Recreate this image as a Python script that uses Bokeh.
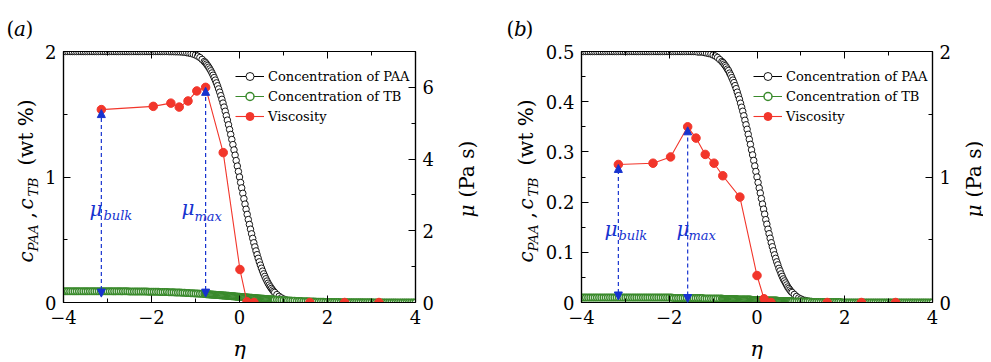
import math
from bokeh.plotting import figure
from bokeh.models import (Range1d, LinearAxis, FixedTicker, Label, Legend, LegendItem,
                          Arrow, NormalHead)
from bokeh.layouts import row, column
from bokeh.embed import file_html
from bokeh.resources import INLINE

# ---------------- data ----------------
ETA = [-4.00, -3.95, -3.90, -3.85, -3.80, -3.75, -3.70, -3.65, -3.60, -3.55, -3.50, -3.45, -3.40,
       -3.35, -3.30, -3.25, -3.20, -3.15, -3.10, -3.05, -3.00, -2.95, -2.90, -2.85, -2.80, -2.75,
       -2.70, -2.65, -2.60, -2.55, -2.50, -2.45, -2.40, -2.35, -2.30, -2.25, -2.20, -2.15, -2.10,
       -2.05, -2.00, -1.95, -1.90, -1.85, -1.80, -1.75, -1.70, -1.65, -1.60, -1.55, -1.50, -1.45,
       -1.40, -1.35, -1.30, -1.25, -1.20, -1.15, -1.10, -1.05, -1.00, -0.95, -0.90, -0.85,
       -0.800, -0.775, -0.750, -0.725, -0.700, -0.675, -0.650, -0.625, -0.600, -0.575, -0.550,
       -0.525, -0.500, -0.475, -0.450, -0.425, -0.400, -0.375, -0.350, -0.325, -0.300, -0.275,
       -0.250, -0.225, -0.200, -0.175, -0.150, -0.125, -0.100, -0.075, -0.050, -0.025, 0.000,
       0.025, 0.050, 0.075, 0.100, 0.125, 0.150, 0.175, 0.200, 0.225, 0.250, 0.275, 0.300, 0.325,
       0.350, 0.375, 0.400, 0.425, 0.450, 0.475, 0.500, 0.525, 0.550, 0.575, 0.600, 0.625, 0.650,
       0.675, 0.700, 0.725, 0.750, 0.775, 0.800,
       0.85, 0.90, 0.95, 1.00, 1.05, 1.10, 1.15, 1.20, 1.25, 1.30, 1.35, 1.40, 1.45, 1.50, 1.55,
       1.60, 1.65, 1.70, 1.75, 1.80, 1.85, 1.90, 1.95, 2.00, 2.05, 2.10, 2.15, 2.20, 2.25, 2.30,
       2.35, 2.40, 2.45, 2.50, 2.55, 2.60, 2.65, 2.70, 2.75, 2.80, 2.85, 2.90, 2.95, 3.00, 3.05,
       3.10, 3.15, 3.20, 3.25, 3.30, 3.35, 3.40, 3.45, 3.50, 3.55, 3.60, 3.65, 3.70, 3.75, 3.80,
       3.85, 3.90, 3.95, 4.00]

PAA_A = ([2.000] * 48 +
         [1.999, 1.999, 1.999, 1.998, 1.998, 1.997, 1.996, 1.994, 1.991, 1.988, 1.984, 1.979,
          1.972, 1.963, 1.952, 1.937] +
         [1.920, 1.911, 1.900, 1.888, 1.875, 1.861, 1.846, 1.829, 1.811, 1.792, 1.772, 1.750,
          1.727, 1.702, 1.676, 1.648, 1.619, 1.589, 1.557, 1.524, 1.489, 1.453, 1.416, 1.378,
          1.339, 1.299, 1.258, 1.216, 1.174, 1.131, 1.087, 1.044, 1.000,
          0.956, 0.913, 0.870, 0.827, 0.784, 0.743, 0.702, 0.661, 0.622, 0.584, 0.547, 0.511,
          0.476, 0.443, 0.411, 0.381, 0.352, 0.324, 0.298, 0.273, 0.250, 0.228, 0.208, 0.189,
          0.171, 0.154, 0.139, 0.125, 0.112, 0.100, 0.089, 0.080] +
         [0.063, 0.049, 0.037, 0.028, 0.021, 0.016, 0.012, 0.009, 0.006, 0.004, 0.003, 0.002,
          0.002, 0.001, 0.001, 0.001] + [0.0] * 48)

TB_A = ([0.090] * 20 + [0.089] * 10 + [0.088] * 5 + [0.087] * 4 + [0.086] * 3 +
        [0.085, 0.085, 0.084, 0.084, 0.083, 0.083, 0.082, 0.081, 0.081, 0.080, 0.079, 0.079,
         0.078, 0.077, 0.076, 0.075, 0.074, 0.073, 0.072, 0.071, 0.070, 0.069] +
        [0.068, 0.067, 0.066, 0.066, 0.065, 0.064, 0.064, 0.063, 0.062, 0.062, 0.061, 0.060,
         0.060, 0.059, 0.058, 0.058, 0.057, 0.056, 0.055, 0.055, 0.054, 0.053, 0.053, 0.052,
         0.051, 0.050, 0.050, 0.049, 0.048, 0.047, 0.046, 0.046, 0.045,
         0.044, 0.044, 0.043, 0.042, 0.041, 0.040, 0.040, 0.039, 0.038, 0.037, 0.037, 0.036,
         0.035, 0.035, 0.034, 0.033, 0.032, 0.032, 0.031, 0.030, 0.030, 0.029, 0.028, 0.028,
         0.027, 0.026, 0.026, 0.025, 0.024, 0.024, 0.023, 0.022] +
        [0.021, 0.020, 0.019, 0.018, 0.017, 0.016, 0.015, 0.014, 0.013, 0.012, 0.011, 0.011,
         0.010, 0.009, 0.009, 0.008, 0.007, 0.007, 0.006, 0.006, 0.005, 0.005, 0.004, 0.004,
         0.004, 0.003, 0.003, 0.003, 0.003, 0.002, 0.002, 0.002, 0.002, 0.002] +
        [0.001] * 10 + [0.0] * 20)

PAA_B = ([0.500] * 48 +
         [0.500, 0.500, 0.500, 0.500, 0.500, 0.499, 0.499, 0.499, 0.498, 0.497, 0.496, 0.495,
          0.493, 0.491, 0.488, 0.484] +
         [0.480, 0.478, 0.475, 0.472, 0.469, 0.465, 0.462, 0.457, 0.453, 0.448, 0.443, 0.438,
          0.432, 0.426, 0.419, 0.412, 0.405, 0.397, 0.389, 0.381, 0.372, 0.363, 0.354, 0.345,
          0.335, 0.325, 0.315, 0.304, 0.294, 0.283, 0.272, 0.261, 0.250,
          0.239, 0.228, 0.218, 0.207, 0.196, 0.186, 0.176, 0.165, 0.156, 0.146, 0.137, 0.128,
          0.119, 0.111, 0.103, 0.095, 0.088, 0.081, 0.075, 0.068, 0.063, 0.057, 0.052, 0.047,
          0.043, 0.039, 0.035, 0.031, 0.028, 0.025, 0.022, 0.020] +
         [0.016, 0.012, 0.009, 0.007, 0.005, 0.004, 0.003, 0.002, 0.002, 0.001, 0.001] +
         [0.0] * 53)

TB_B = ([0.010] * 42 + [0.009] * 14 + [0.008] * 8 +
        [0.008] + [0.007] * 13 + [0.006] * 13 + [0.005] * 11 + [0.004] * 13 + [0.003] * 13 +
        [0.002] +
        [0.002] * 8 + [0.001] * 14 + [0.0] * 42)

VISC_A_ETA = [-3.14, -1.96, -1.56, -1.37, -1.17, -0.97, -0.77, -0.37, 0.01, 0.17, 0.33, 1.60, 2.39, 3.17]
VISC_A_MU = [5.38, 5.47, 5.56, 5.45, 5.62, 5.90, 6.00, 4.18, 0.92, 0.02, 0.00, 0.00, 0.00, 0.00]
VISC_B_ETA = [-3.16, -2.37, -1.97, -1.58, -1.39, -1.18, -0.98, -0.78, -0.39, 0.00, 0.16, 0.32, 1.60, 2.38, 3.16]
VISC_B_MU = [1.10, 1.11, 1.16, 1.40, 1.31, 1.18, 1.11, 1.01, 0.84, 0.215, 0.03, 0.00, 0.00, 0.00, 0.00]

# foot of the mu_bulk / mu_max arrows (Pa s, right axis)
ARROW_FOOT_A = [0.15, 0.15]
ARROW_FOOT_B = [0.02, 0.0]

X_TICKS = [-4, -2, 0, 2, 4]
X_MINOR = [-3, -1, 1, 3]
C_TICKS_A = [0, 1, 2]
C_MINOR_A = [0.5, 1.5]
MU_TICKS_A = [0, 2, 4, 6]
MU_MINOR_A = [1, 3, 5]
C_TICKS_B = [0, 0.1, 0.2, 0.3, 0.4, 0.5]
C_MINOR_B = [0.05, 0.15, 0.25, 0.35, 0.45]
MU_TICKS_B = [0, 1, 2]
MU_MINOR_B = [0.5, 1.5]

for arr in (PAA_A, TB_A, PAA_B, TB_B):
    assert len(arr) == len(ETA), len(arr)

# ---------------- style ----------------
FONT = "DejaVu Serif"
RED = "#f2362b"
GREEN = "#3a8a2c"
BLUE = "#1733cf"
ROW_H = 333          # canvas height of the plot row
BOT_H = 26           # canvas height of the strip holding the eta labels


def fmt(v):
    return ("%g" % v).replace("-", "\u2212")


def style_axis(ax, ticks, minor, labels=True, standoff=7):
    ax.ticker = FixedTicker(ticks=ticks, minor_ticks=minor)
    ax.axis_line_color = "black"
    ax.axis_line_width = 1.2
    ax.major_tick_line_color = "black"
    ax.minor_tick_line_color = "black"
    ax.major_tick_in = 7
    ax.major_tick_out = 0
    ax.minor_tick_in = 4
    ax.minor_tick_out = 0
    ax.major_label_text_font = FONT
    ax.major_label_text_font_size = "18px"
    ax.major_label_text_color = "black"
    ax.major_label_standoff = standoff
    if labels:
        ax.major_label_overrides = {t: fmt(t) for t in ticks}
    else:
        ax.major_label_overrides = {t: "" for t in ticks}
        ax.major_label_text_font_size = "0px"


def add_text(p, x, y, text, size, style="normal", angle=0.0, align="left", color="black",
             units="data"):
    p.add_layout(Label(x=x, y=y, x_units=units, y_units=units, text=text, text_font=FONT,
                       text_font_size=f"{size}px", text_font_style=style, angle=angle,
                       text_align=align, text_baseline="alphabetic", text_color=color))


def strip(w, h):
    s = figure(width=w, height=h, x_range=Range1d(0, w), y_range=Range1d(0, h),
               output_backend="svg", toolbar_location=None, x_axis_location=None,
               y_axis_location=None, min_border_left=0, min_border_right=0,
               min_border_top=0, min_border_bottom=0)
    s.frame_align = False
    s.grid.visible = False
    s.outline_line_color = None
    s.background_fill_color = "white"
    s.border_fill_color = "white"
    return s


def make_panel(width, bl, br, cmax, mumax, paa, tb, veta, vmu, c_ticks, c_minor, mu_ticks,
               mu_minor, feet, mu_texts):
    p = figure(width=width, height=ROW_H, x_range=Range1d(-4, 4), y_range=Range1d(0, cmax),
               output_backend="svg", toolbar_location=None,
               min_border_left=bl, min_border_right=br, min_border_top=51,
               min_border_bottom=ROW_H - 51 - 251)
    p.extra_y_ranges = {"mu": Range1d(0, mumax)}
    p.xgrid.visible = False
    p.ygrid.visible = False
    p.outline_line_color = "black"
    p.outline_line_width = 1.2
    p.background_fill_color = "white"
    p.border_fill_color = "white"

    style_axis(p.xaxis[0], X_TICKS, X_MINOR, standoff=7)
    style_axis(p.yaxis[0], c_ticks, c_minor, standoff=7)
    top = LinearAxis()
    style_axis(top, X_TICKS, X_MINOR, labels=False)
    p.add_layout(top, "above")
    right = LinearAxis(y_range_name="mu")
    style_axis(right, mu_ticks, mu_minor, standoff=7)
    p.add_layout(right, "right")

    l1 = p.line(ETA, paa, line_color="black", line_width=1)
    s1 = p.scatter(ETA, paa, size=6.5, line_color="black", fill_color="white", line_width=0.9)
    l2 = p.line(ETA, tb, line_color=GREEN, line_width=1)
    s2 = p.scatter(ETA, tb, size=6.5, line_color=GREEN, fill_color="white", line_width=1.5)
    l3 = p.line(veta, vmu, line_color=RED, line_width=1.1, y_range_name="mu")
    s3 = p.scatter(veta, vmu, size=8.5, line_color=RED, fill_color=RED, y_range_name="mu")

    leg = Legend(items=[LegendItem(label="Concentration of PAA", renderers=[l1, s1]),
                        LegendItem(label="Concentration of TB", renderers=[l2, s2]),
                        LegendItem(label="Viscosity", renderers=[l3, s3])],
                 location=(172, 176), orientation="vertical",
                 label_text_font=FONT, label_text_font_size="13px", label_text_color="black",
                 glyph_width=29, glyph_height=20, label_height=20, label_standoff=4,
                 spacing=0, padding=0, margin=0, border_line_color=None,
                 background_fill_alpha=0)
    p.add_layout(leg)

    i_max = vmu.index(max(vmu))
    for i, foot in zip([0, i_max], feet):
        p.add_layout(Arrow(x_start=veta[i], y_start=foot, x_end=veta[i], y_end=vmu[i],
                           y_range_name="mu", line_color=BLUE, line_width=1.2, line_dash="4 3",
                           start=NormalHead(size=8, fill_color=BLUE, line_color=BLUE, line_width=1),
                           end=NormalHead(size=8, fill_color=BLUE, line_color=BLUE, line_width=1)))

    # mu_bulk / mu_max annotations (pixels from the frame's bottom-left corner)
    for (mx_, my_, sx_, sy_, sub) in mu_texts:
        add_text(p, mx_, my_, "\u03bc", 20, "italic", color=BLUE, units="screen")
        add_text(p, sx_, sy_, sub, 13, "italic", color=BLUE, units="screen")
    return p


def yl(page_y):
    # page pixel row -> local y of a strip in the plot row (measured upward)
    return ROW_H + 1 - page_y


def left_strip(w, letter, letter_x, base_x):
    s = strip(w, ROW_H)
    add_text(s, letter_x, yl(29), "(", 20)
    add_text(s, letter_x + 7.5, yl(29), letter, 20, "italic")
    add_text(s, letter_x + 19, yl(29), ")", 20)
    up = math.pi / 2
    sub_x = base_x + 6.5
    add_text(s, base_x, yl(263), "c", 20, "italic", up)
    add_text(s, sub_x, yl(252), "PAA", 13.5, "italic", up)
    add_text(s, base_x, yl(219), ",", 20, "normal", up)
    add_text(s, base_x, yl(210), "c", 20, "italic", up)
    add_text(s, sub_x, yl(197), "TB", 13.5, "italic", up)
    add_text(s, base_x, yl(166), "(wt %)", 20, "normal", up)
    return s


def right_strip(w, base_x):
    s = strip(w, ROW_H)
    up = math.pi / 2
    add_text(s, base_x, yl(218), "\u03bc", 20, "italic", up)
    add_text(s, base_x, yl(198), "(Pa s)", 20, "normal", up)
    return s


# page columns: 1..43 | 43..441 | 441..480 | 480..543 | 543..954 | 954..984
pa = make_panel(398, 20, 25, 2, 7, PAA_A, TB_A, VISC_A_ETA, VISC_A_MU, C_TICKS_A, C_MINOR_A,
                MU_TICKS_A, MU_MINOR_A, ARROW_FOOT_A,
                [(26, 94, 40, 87, "bulk"), (118, 95, 131, 86, "max")])
pb = make_panel(411, 38, 20, 0.5, 2, PAA_B, TB_B, VISC_B_ETA, VISC_B_MU, C_TICKS_B, C_MINOR_B,
                MU_TICKS_B, MU_MINOR_B, ARROW_FOOT_B,
                [(23, 74, 37, 67, "bulk"), (95, 74, 107, 67, "max")])

sla = left_strip(42, "a", 6, 25.5)
sra = right_strip(39, 26)
slb = left_strip(63, "b", 27, 46.5)
srb = right_strip(30, 20)

bottom = strip(983, BOT_H)
add_text(bottom, 239, 11, "\u03b7", 21, "italic", align="center")
add_text(bottom, 756, 11, "\u03b7", 21, "italic", align="center")

layout = column(row(sla, pa, sra, slb, pb, srb), bottom)
open("out.html", "w").write(file_html(layout, INLINE))
